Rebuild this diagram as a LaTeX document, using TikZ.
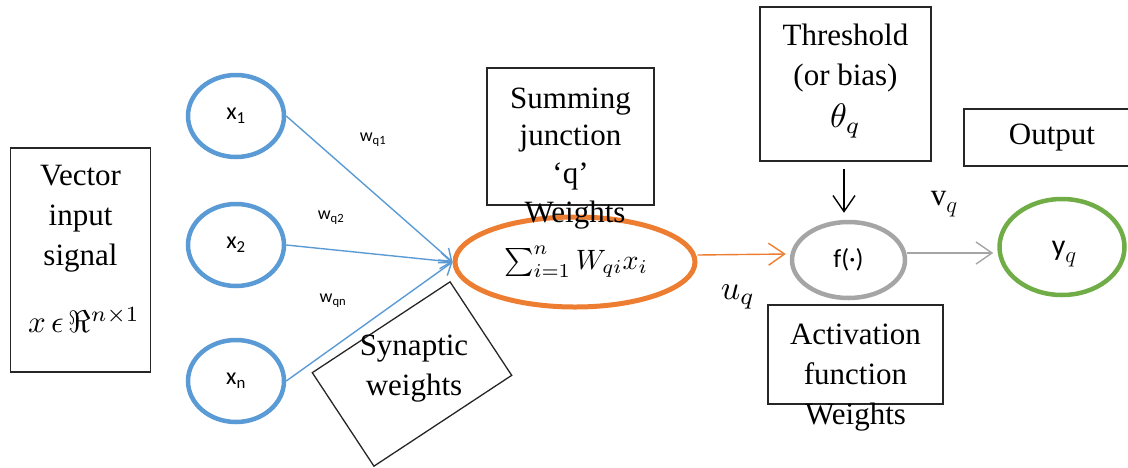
\RequirePackage{fix-cm}
\documentclass[tikz,border=0pt]{standalone}
\usepackage{fontspec}
\setmainfont{Liberation Serif}
\newfontfamily\calib{Carlito}
\usetikzlibrary{shapes.geometric,arrows.meta}

\definecolor{inblue}{HTML}{5B9BD5}
\definecolor{sumorange}{HTML}{ED7D31}
\definecolor{actgray}{HTML}{A5A5A5}
\definecolor{outgreen}{HTML}{70AD47}

% enlarged formula and enlarged lowered subscript
\newcommand{\bigformula}[2][2.9]{\scalebox{#1}{#2}}
\newcommand{\lowq}{\raisebox{-7pt}{\fontsize{23}{26}\selectfont$q$}}

\begin{document}
\begin{tikzpicture}[x=1pt,y=-1pt,
  box/.style={draw=black!85, line width=1.3pt, inner sep=0pt},
  serif/.style={font=\fontsize{31}{40}\selectfont, align=center, inner sep=0pt},
  mathlbl/.style={font=\fontsize{10}{12}\selectfont, inner sep=0pt},
  innode/.style={ellipse, draw=inblue, line width=4.5pt, minimum width=96pt,
    minimum height=82pt, inner sep=0pt, font=\calib\fontsize{24}{28}\selectfont},
  wlbl/.style={font=\calib\fontsize{18}{20}\selectfont, inner sep=0pt},
  synarrow/.style={draw=inblue, line width=1.4pt,
    -{Straight Barb[length=11pt,width=16pt,line width=1.4pt]}},
  widearrow/.style={line width=1.4pt,
    -{Straight Barb[length=16pt,width=22pt,line width=1.4pt]}}
]
\useasboundingbox (0,0) rectangle (1128,467);

% input vector description
\node[box, minimum width=140pt, minimum height=224pt] (vecbox) at (80.5,260) {};
\node[serif] (vectxt) at (80.5,219) {Vector\\input\\signal};
\node[mathlbl] (vecmath) at (84,320) {\bigformula[3.1]{$x\,\epsilon\,\Re^{n\times 1}$}};

% input neurons
\node[innode] (x1) at (236,116) {x\textsubscript{1}};
\node[innode] (x2) at (236,245) {x\textsubscript{2}};
\node[innode] (xn) at (236,381) {x\textsubscript{n}};

% summing junction
\node[ellipse, draw=sumorange, line width=5pt, minimum width=240pt,
  minimum height=90pt, inner sep=0pt] (sum) at (575,262) {};
\node[mathlbl] (sumform) at (576,262) {\bigformula[2.8]{$\sum_{i=1}^{n} W_{qi}x_i$}};
\node[box, minimum width=167pt, minimum height=137pt] (sumbox) at (570.5,136.5) {};
\node[serif, font=\fontsize{31}{37.5}\selectfont] (sumtxt) at (570.5,139)
  {Summing\\junction\\`q'};
\node[serif] (sumw) at (575,215) {Weights};

% synaptic weights
\draw[synarrow] (x1.east) -- (sum.west);
\draw[synarrow] (x2.east) -- (sum.west);
\draw[synarrow] (xn.east) -- (sum.west);
\node[wlbl] (w1) at (373,140) {w\textsubscript{q1}};
\node[wlbl] (w2) at (331,218) {w\textsubscript{q2}};
\node[wlbl] (wn) at (333,301) {w\textsubscript{qn}};
\node[box, minimum width=165pt, minimum height=112pt, rotate=33.4] (synbox)
  at (412,374) {};
\node[serif] (syntxt) at (414,369) {Synaptic\\weights};

% activation
\node[ellipse, draw=actgray, line width=4.5pt, minimum width=113pt,
  minimum height=76pt, inner sep=0pt, font=\calib\fontsize{26}{30}\selectfont]
  (f) at (848.5,260) {f(·)};
\draw[widearrow, draw=sumorange] ([yshift=7pt]sum.east) -- ([xshift=-4pt,yshift=6pt]f.west);
\node[mathlbl] (uq) at (738,297) {\bigformula[3.4]{$u_q$}};

\node[box, minimum width=171pt, minimum height=154pt] (thrbox) at (845.5,84) {};
\node[serif] (thrtxt) at (845.5,58) {Threshold\\(or bias)};
\node[mathlbl] (theta) at (845.5,121) {\bigformula[3.4]{$\theta_q$}};
\draw[widearrow, draw=black] ([xshift=-1.5pt,yshift=-7pt]thrbox.south)
  -- ([xshift=-4.5pt,yshift=7pt]f.north);

\node[box, minimum width=175pt, minimum height=99pt] (actbox) at (855.5,354.5) {};
\node[serif] (acttxt) at (855.5,378) {Activation\\function\\Weights};

% output
\node[ellipse, draw=outgreen, line width=4.5pt, minimum width=125pt,
  minimum height=96pt, inner sep=0pt] (y) at (1062,247) {};
\node[font=\calib\fontsize{30}{34}\selectfont, inner sep=0pt] (ytxt) at (1064,254) {y\lowq};
\draw[widearrow, draw=actgray] ([yshift=7pt]f.east) -- ([xshift=-4pt,yshift=-6pt]y.west);
\node[font=\fontsize{31}{36}\selectfont, inner sep=0pt] (vq) at (944,204) {v\lowq};

\node[box, minimum width=180pt, minimum height=57pt] (outbox) at (1054,137.5) {};
\node[serif] (outtxt) at (1052,138) {Output};
\end{tikzpicture}
\end{document}
